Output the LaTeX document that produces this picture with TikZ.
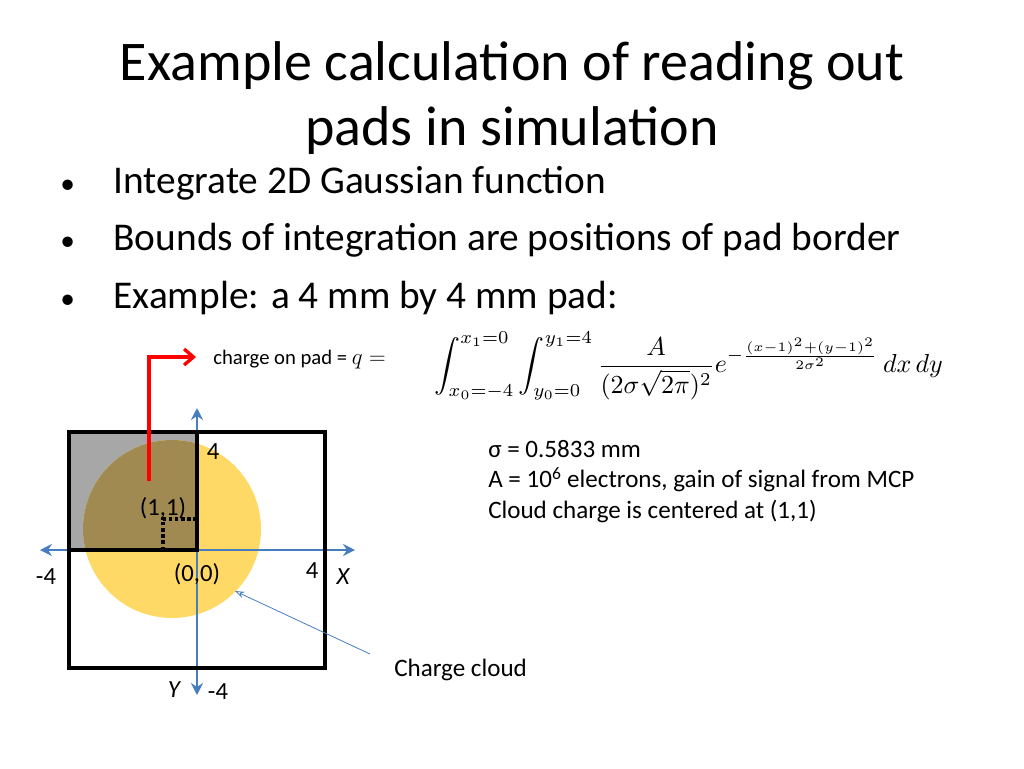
\documentclass[tikz,border=0pt]{standalone}
\usepackage{fontspec}
\setmainfont{Carlito}
\usepackage{amsmath}
\usepackage{graphicx}
\usetikzlibrary{arrows.meta}
\definecolor{axblue}{RGB}{70,125,190}
\definecolor{gold}{RGB}{255,217,102}
\definecolor{dgold}{RGB}{160,138,82}
\definecolor{padgray}{RGB}{167,167,167}
\tikzset{
 lbl/.style={font=\fontsize{18.5}{22}\selectfont,inner sep=0pt},
 txt/.style={font=\fontsize{18.8}{22}\selectfont,inner sep=0pt,anchor=west},
 bul/.style={font=\fontsize{29.5}{34}\selectfont,inner sep=0pt,anchor=west},
 axis/.style={axblue,line width=2.2pt,{Stealth[length=9pt,width=9pt,inset=3pt]}-{Stealth[length=9pt,width=9pt,inset=3pt]}}
}
\begin{document}
\begin{tikzpicture}[x=0.75pt,y=-0.75pt]
\useasboundingbox (0,0) rectangle (1024,768);
\node[font=\fontsize{42}{49}\selectfont,align=center,inner sep=0pt] (title) at (512,98) {Example calculation of reading out\\pads in simulation};
\node[bul] (b1) at (60,183) {\makebox[40pt][l]{\fontsize{22}{22}\selectfont•}Integrate 2D Gaussian function};
\node[bul] (b2) at (60,240) {\makebox[40pt][l]{\fontsize{22}{22}\selectfont•}Bounds of integration are positions of pad border};
\node[bul] (b3) at (60,298) {\makebox[40pt][l]{\fontsize{22}{22}\selectfont•}Example: a 4 mm by 4 mm pad:};
% pads
\fill[padgray] (69,432) rectangle (197,550);
\fill[gold] (172,529) circle (89);
\begin{scope}
\clip (69,432) rectangle (197,550);
\fill[dgold] (172,529) circle (89);
\end{scope}
\draw[axis] (197,695) -- (197,408);
\draw[axis] (40,550) -- (355,550);
\draw[line width=2.8pt] (69,432) rectangle (325,668);
\draw[line width=2.8pt] (69,432) rectangle (197,550);
\draw[line width=2.8pt] (69,550) -- (197,550);
\draw[line width=2.6pt,dotted] (163,550) -- (163,519) -- (197,519);
\coordinate (rs) at (149,481);
\coordinate (re) at (196,357);
\draw[red,line width=2.5pt,-{Straight Barb[length=7pt,width=12pt]}] (rs) |- (re);
\node[lbl] (l4a) at (213,452) {4};
\node[lbl] (l11) at (163,508) {(1,1)};
\node[lbl] (l00) at (197,574) {(0,0)};
\node[lbl] (lm4a) at (46,577) {-4};
\node[lbl] (l4b) at (312,571) {4};
\node[lbl] (lx) at (343,577) {\itshape X};
\node[lbl] (ly) at (174,690) {\itshape Y};
\node[lbl] (lm4b) at (218,692) {-4};
\node[txt] (cc) at (394,670) {Charge cloud};
\coordinate (ct) at (235,591);
\draw[axblue,line width=0.6pt,-{Stealth[length=7pt,width=5pt,open]}] (cc.west)++(-24,-16) -- (ct);
\node[lbl,anchor=west,font=\fontsize{15.5}{18}\selectfont] (cop) at (213,360) {charge on pad = \fontsize{19}{20}\selectfont$q =$};
\node[inner sep=0pt,anchor=west] (eq) at (434,366) {\scalebox{1.95}{$\displaystyle \int_{x_0=-4}^{x_1=0}\int_{y_0=0}^{y_1=4}\frac{A}{(2\sigma\sqrt{2\pi})^2}e^{-\frac{(x-1)^2+(y-1)^2}{2\sigma^2}}\,dx\,dy$}};
\node[txt] (s1) at (488,449) {σ = 0.5833 mm};
\node[txt] (s2) at (488,480) {A = 10\textsuperscript{6} electrons, gain of signal from MCP};
\node[txt] (s3) at (488,511) {Cloud charge is centered at (1,1)};
\end{tikzpicture}
\end{document}
